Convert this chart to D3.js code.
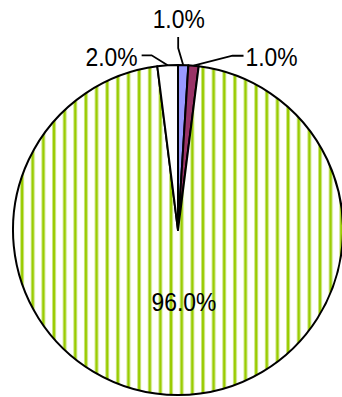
<!DOCTYPE html>
<html>
<head>
<meta charset="utf-8">
<script src="https://cdn.jsdelivr.net/npm/d3@7"></script>
<style>
  html, body { margin: 0; padding: 0; background: #fff; }
  svg { display: block; }
  text { font-family: "Liberation Sans", Arial, sans-serif; fill: #000; }
</style>
</head>
<body>
<svg id="chart" width="342" height="397"></svg>
<script>
// Share of each category, in percent, drawn clockwise from 12 o'clock
const categories = ["A", "B", "C", "D"];
const values = [1.0, 1.0, 96.0, 2.0];
const labels = ["1.0%", "1.0%", "96.0%", "2.0%"];
const fills = ["#9999ff", "#993366", "url(#vstripe)", "#ffffff"];

const width = 342, height = 397;
const cx = 178, cy = 230, radius = 165;
const fontSize = 26, squeeze = 0.88; // slightly condensed lettering

const svg = d3.select("#chart");

// Vertical yellow-green stripe pattern for the large slice
const defs = svg.append("defs");
const pat = defs.append("pattern")
  .attr("id", "vstripe")
  .attr("patternUnits", "userSpaceOnUse")
  .attr("width", 10.64)
  .attr("height", 10)
  .attr("x", 1.7);
pat.append("rect").attr("width", 10.64).attr("height", 10).attr("fill", "#ffffff");
pat.append("rect").attr("x", 0).attr("width", 4).attr("height", 10).attr("fill", "#cbe57f");
pat.append("rect").attr("x", 1).attr("width", 2).attr("height", 10).attr("fill", "#99cc00");

const pie = d3.pie().sort(null).value(d => d)
  .startAngle(0).endAngle(2 * Math.PI);
const arcs = pie(values);

const arc = d3.arc().innerRadius(0).outerRadius(radius);

const g = svg.append("g").attr("transform", `translate(${cx},${cy})`);

g.selectAll("path.slice")
  .data(arcs)
  .join("path")
  .attr("class", "slice")
  .attr("d", arc)
  .attr("fill", (d, i) => fills[i])
  .attr("stroke", "#000")
  .attr("stroke-width", 2)
  .attr("stroke-linejoin", "round");

const addLabel = (x, y, anchor, str) => {
  g.append("g")
    .attr("transform", `translate(${x},${y}) scale(${squeeze},1)`)
    .append("text")
    .attr("text-anchor", anchor)
    .attr("font-size", fontSize)
    .text(str);
};

// Leader lines for the thin slices: elbow / end / text offsets relative to the slice rim
const leaders = [
  { i: 0, elbow: [-5, -17], end: [-5, -28], text: [-4.5, -37], anchor: "middle" },
  { i: 1, elbow: [39, -10], end: [50, -10], text: [52, 0], anchor: "start" },
  { i: 3, elbow: [-16, -10], end: [-26, -10], text: [-30, 0.5], anchor: "end" }
];

const rimPoint = d => {
  const a = (d.startAngle + d.endAngle) / 2;
  return [radius * Math.sin(a), -radius * Math.cos(a)];
};

leaders.forEach(L => {
  const d = arcs[L.i];
  const [x0, y0] = rimPoint(d);
  g.append("path")
    .attr("d", d3.line()([[x0, y0], [x0 + L.elbow[0], y0 + L.elbow[1]], [x0 + L.end[0], y0 + L.end[1]]]))
    .attr("fill", "none")
    .attr("stroke", "#000")
    .attr("stroke-width", 1.8);
  addLabel(x0 + L.text[0], y0 + L.text[1], L.anchor, labels[L.i]);
});

// Label inside the large slice
const inner = d3.arc().innerRadius(0).outerRadius(radius * 0.87);
const [bx, by] = inner.centroid(arcs[2]);
addLabel(bx + 6, by + 9, "middle", labels[2]);
</script>
</body>
</html>
